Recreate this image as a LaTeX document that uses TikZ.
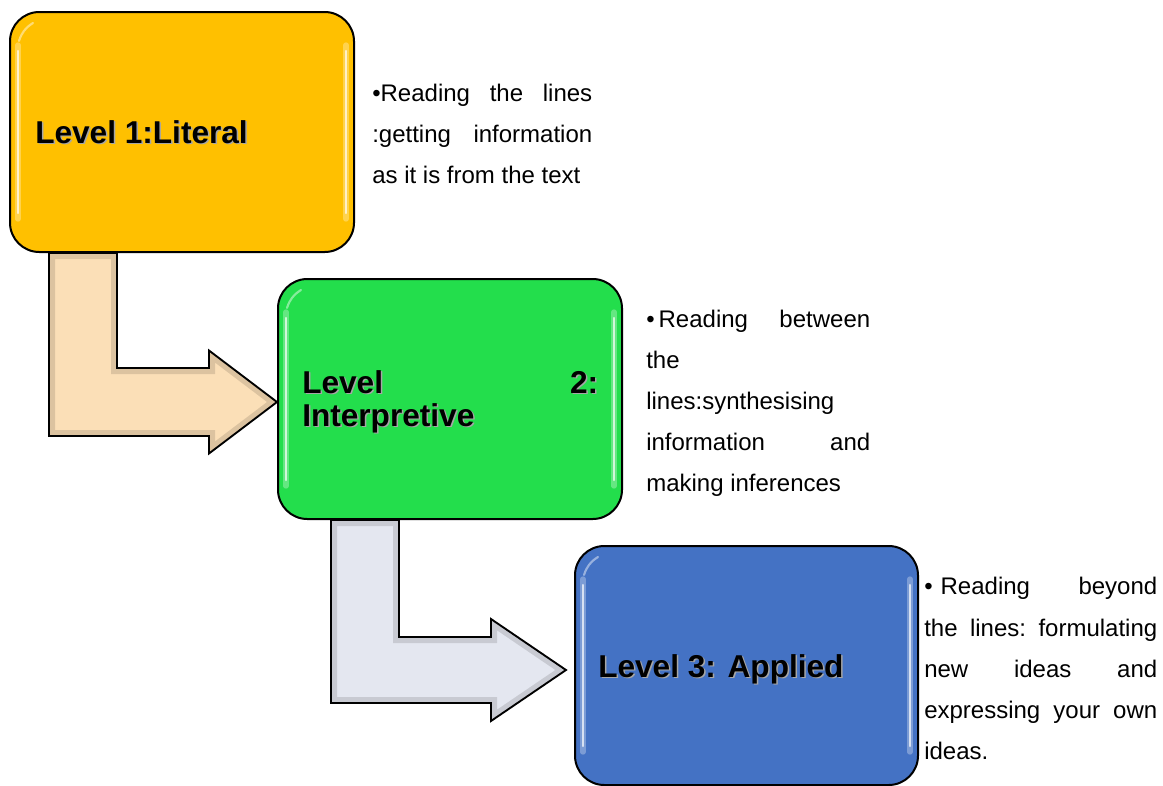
\documentclass[tikz,border=0pt]{standalone}
\usepackage{fontspec}
\setmainfont{Liberation Sans}
\usetikzlibrary{calc,backgrounds}
\definecolor{boxA}{HTML}{FFC000}
\definecolor{boxB}{HTML}{23DE4C}
\definecolor{boxC}{HTML}{4472C4}
\definecolor{arrA}{HTML}{FBDFB7}
\definecolor{arrB}{HTML}{E4E7F0}
\newcommand\mydesc{\fontsize{18pt}{20pt}\selectfont}
\newcommand\mylabel{\fontsize{23.7pt}{26pt}\selectfont\bfseries}
\begin{document}
\begin{tikzpicture}[x=0.75pt,y=-0.75pt,
  levelbox/.style={draw=black, line width=1.5pt, rounded corners=22pt,
    minimum width=258pt, minimum height=180pt, inner sep=0pt},
  bevelsoft/.style={white, opacity=0.3, line width=4pt, line cap=round},
  bevel/.style={white, opacity=0.7, line width=1.6pt, line cap=round},
  bentarrow/.style={draw=black, line width=1.4pt, line join=miter},
  rim/.style={line width=9pt, black, opacity=0.12},
  desc/.style={anchor=base west, inner sep=0pt, font=\mydesc},
  lab/.style={anchor=base west, inner sep=0pt, font=\mylabel},
  labshadow/.style={lab, text=black!35}]
\useasboundingbox (0,0) rectangle (1163,785);

% level boxes
\node[levelbox, fill=boxA] (b1) at (182,132) {};
\node[levelbox, fill=boxB] (b2) at (450,399) {};
\node[levelbox, fill=boxC, minimum width=257.25pt, minimum height=179.25pt] (b3) at (746.5,665.5) {};

% bevel highlights
\foreach \b in {b1,b2,b3}{
  \draw[bevelsoft] ($(\b.north west)+(9,34)$) -- ($(\b.south west)+(9,-34)$);
  \draw[bevelsoft] ($(\b.north east)+(-9,34)$) -- ($(\b.south east)+(-9,-34)$);
  \draw[bevel] ($(\b.north west)+(9,40)$) -- ($(\b.south west)+(9,-40)$);
  \draw[bevel] ($(\b.north east)+(-9,40)$) -- ($(\b.south east)+(-9,-40)$);
  \draw[bevel, opacity=0.45] ($(\b.north west)+(10,30)$) to[bend left=20] ($(\b.north west)+(24,12)$);
}

% bent arrows behind the boxes
\begin{scope}[on background layer]
  \coordinate (tA) at ($(b2.west)+(0,3)$);
  \coordinate (sA) at ($(b1.south west)+(40,0)$);
  \def\pathA{(sA) -- ++(68,0) -- ($(sA |- tA)+(68,-34)$) -- ($(tA)+(-68,-34)$)
    -- ($(tA)+(-68,-51.5)$) -- (tA) -- ($(tA)+(-68,51.5)$) -- ($(tA)+(-68,34)$)
    -- ($(sA |- tA)+(0,34)$) -- cycle}
  \fill[arrA] \pathA;
  \begin{scope}
    \clip \pathA;
    \draw[rim] \pathA;
  \end{scope}
  \draw[bentarrow] \pathA;

  \coordinate (tB) at ($(b3.west)+(-8,4.5)$);
  \coordinate (sB) at ($(b2.south west)+(54,0)$);
  \def\pathB{(sB) -- ++(68,0) -- ($(sB |- tB)+(68,-33)$) -- ($(tB)+(-75,-33)$)
    -- ($(tB)+(-75,-51)$) -- (tB) -- ($(tB)+(-75,51)$) -- ($(tB)+(-75,33)$)
    -- ($(sB |- tB)+(0,33)$) -- cycle}
  \fill[arrB] \pathB;
  \begin{scope}
    \clip \pathB;
    \draw[rim] \pathB;
  \end{scope}
  \draw[bentarrow] \pathB;
\end{scope}

% level labels with soft shadow
\node[labshadow] (l1s) at (36.5,144.5) {Level 1:Literal};
\node[lab] (l1) at (35,143) {Level 1:Literal};
\node[labshadow] (l2as) at (303.5,394.5) {\makebox[222pt][l]{Level\hfill 2:}};
\node[lab] (l2a) at (302,393) {\makebox[222pt][l]{Level\hfill 2:}};
\node[labshadow] (l2bs) at (303.5,427.5) {Interpretive};
\node[lab] (l2b) at (302,426) {Interpretive};
\node[labshadow] (l3s) at (599.5,678.5) {Level 3: Applied};
\node[lab] (l3) at (598,677) {Level 3: Applied};

% descriptions
\node[desc] (d1a) at (372,101) {\makebox[165pt][l]{•Reading\hfill the\hfill lines}};
\node[desc] (d1b) at (372,142) {\makebox[165pt][l]{:getting\hfill information}};
\node[desc] (d1c) at (372,183) {as it is from the text};

\node[desc] (d2a) at (646,327) {\makebox[168pt][l]{•\kern3pt Reading\hfill between}};
\node[desc] (d2b) at (646,368) {the};
\node[desc] (d2c) at (646,409) {lines:synthesising};
\node[desc] (d2d) at (646,450) {\makebox[168pt][l]{information\hfill and}};
\node[desc] (d2e) at (646,491) {making inferences};

\node[desc] (d3a) at (924,594) {\makebox[174.75pt][l]{•\kern6pt Reading\hfill beyond}};
\node[desc] (d3b) at (924,636) {\makebox[174.75pt][l]{the\hfill lines:\hfill formulating}};
\node[desc] (d3c) at (924,677) {\makebox[174.75pt][l]{new\hfill ideas\hfill and}};
\node[desc] (d3d) at (924,718) {\makebox[174.75pt][l]{expressing\hfill your\hfill own}};
\node[desc] (d3e) at (924,759) {ideas.};
\end{tikzpicture}
\end{document}
